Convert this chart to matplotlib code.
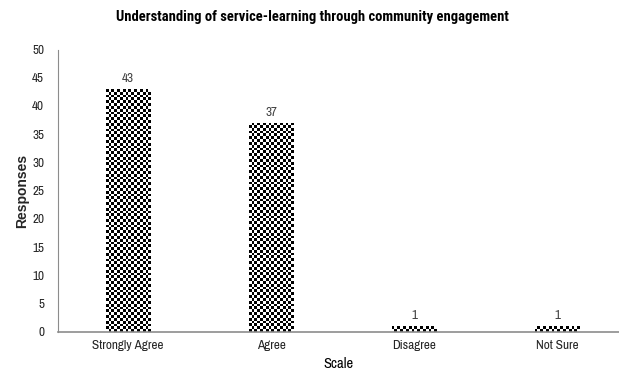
import numpy as np
import matplotlib
matplotlib.use("Agg")
import matplotlib.pyplot as plt
from matplotlib import font_manager

categories = ["Strongly Agree", "Agree", "Disagree", "Not Sure"]
responses = [43, 37, 1, 1]
yticks = [0, 5, 10, 15, 20, 25, 30, 35, 40, 45, 50]

names = {f.name for f in font_manager.fontManager.ttflist}
def pick(cands):
    return [f for f in cands if f in names] + ["DejaVu Sans"]
narrow = pick(["Archivo Narrow", "Roboto Condensed", "Liberation Sans Narrow", "Liberation Sans"])
narrow_bold = pick(["Roboto Condensed", "Liberation Sans Narrow", "Liberation Sans"])
regular = pick(["Liberation Sans"])
plt.rcParams["font.family"] = narrow

fig = plt.figure(figsize=(6.19, 3.75), dpi=100)
ax = fig.add_axes([0.0937, 0.1147, 0.9063, 0.7533])

x = np.arange(len(categories))
bars = ax.bar(x, responses, width=0.31, color="none", edgecolor="none")

xlim = (-0.49, 3.43)
ylim = (0, 50)
ax.set_xlim(*xlim)
ax.set_ylim(*ylim)

# checkerboard fill, clipped to each bar
nx, ny = 200, 100
checker = (np.add.outer(np.arange(ny), np.arange(nx)) % 2).astype(float)
for b in bars:
    im = ax.imshow(checker, cmap="gray", vmin=0, vmax=1, extent=(xlim[0], xlim[1], ylim[0], ylim[1]),
                   aspect="auto", interpolation="nearest", origin="lower", zorder=2)
    im.set_clip_path(b)
ax.set_xlim(*xlim)
ax.set_ylim(*ylim)

for xi, v in zip(x, responses):
    ax.text(xi, v + 0.9, str(v), ha="center", va="bottom", fontsize=9.5, color="#404040")

ax.set_xticks(x)
ax.set_xticklabels(categories, fontsize=9.5, color="#262626")
ax.set_yticks(yticks)
ax.set_yticklabels([str(t) for t in yticks], fontsize=9.5, color="#262626")
ax.tick_params(axis="both", length=0, pad=6)
ax.tick_params(axis="y", pad=10)

for s in ["top", "right"]:
    ax.spines[s].set_visible(False)
ax.spines["left"].set_color("#8c8c8c")
ax.spines["bottom"].set_color("#8c8c8c")
ax.spines["bottom"].set_linewidth(1.2)

ax.set_xlabel("Scale", fontsize=10.5, color="#000000", labelpad=4)
ax.set_ylabel("Responses", fontsize=10, fontweight="bold", color="#262626", labelpad=2,
              family=regular)
fig.text(0.505, 0.955, "Understanding of service-learning through community engagement",
         ha="center", va="center", fontsize=10.5, fontweight="bold", color="#000000",
         family=narrow_bold)

fig.savefig("out.png", dpi=100)
